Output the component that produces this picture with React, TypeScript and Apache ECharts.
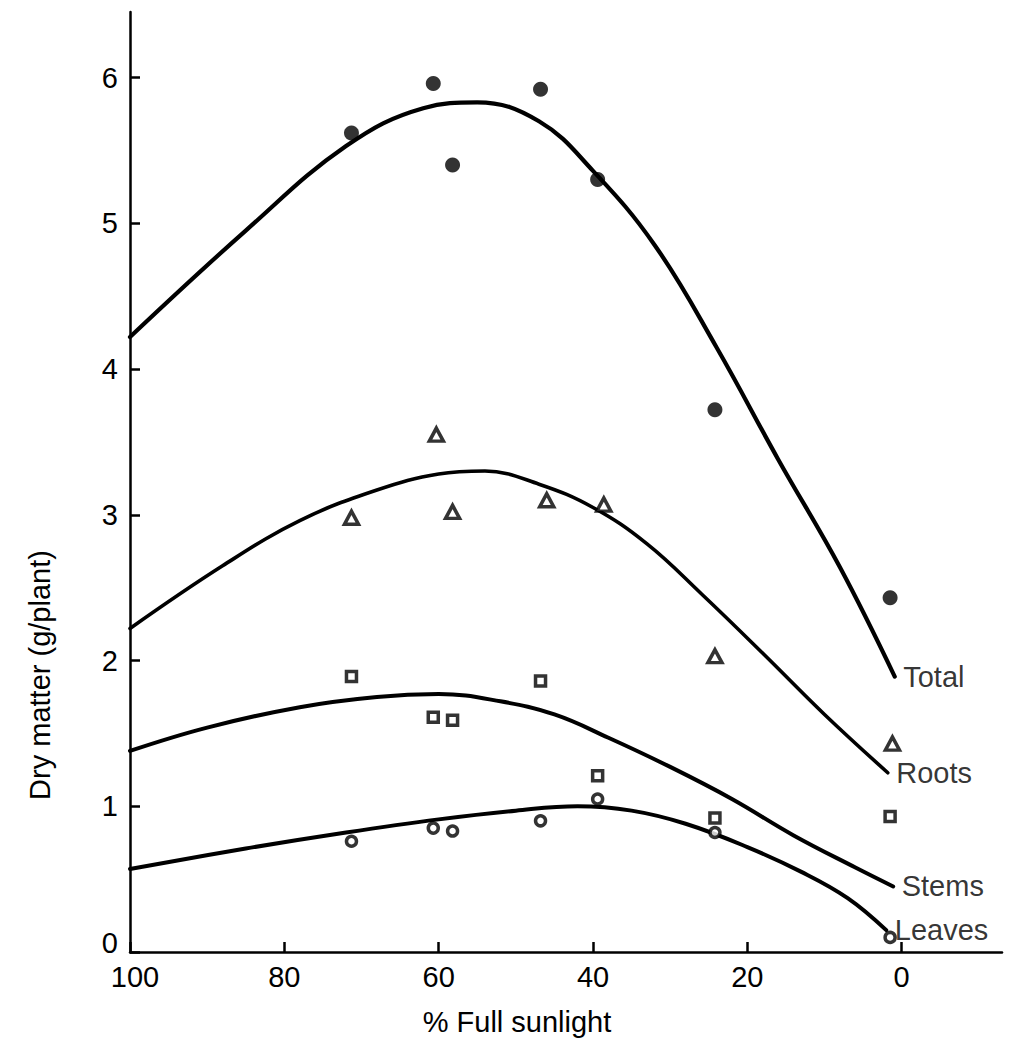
import React, { useEffect, useRef } from "react";
import * as echarts from "echarts";

// Axis ticks
const xTickValues = [0, 20, 40, 60, 80, 100];
const yTickValues = [0, 1, 2, 3, 4, 5, 6];

// Observed points (% full sunlight)
const sunlight = [71.3, 60.7, 58.2, 46.8, 39.4, 24.2, 1.5];
const rootsSunlight = [71.3, 60.3, 58.2, 46.0, 38.6, 24.2, 1.2];
const totalPoints = [5.62, 5.96, 5.4, 5.92, 5.3, 3.72, 2.43];
const rootsPoints = [2.98, 3.55, 3.02, 3.1, 3.07, 2.03, 1.43];
const stemsPoints = [1.89, 1.61, 1.59, 1.86, 1.21, 0.92, 0.93];
const leavesPoints = [0.76, 0.85, 0.83, 0.9, 1.05, 0.82, 0.1];

// Fitted curves
const totalCurveX = [100, 85, 72, 62, 55, 47, 40, 32, 24, 16, 8, 0.9];
const totalCurveY = [4.22, 4.95, 5.53, 5.79, 5.83, 5.7, 5.36, 4.85, 4.15, 3.38, 2.64, 1.89];
const rootsCurveX = [100, 88, 78, 68, 60, 54, 47, 40, 33, 26, 18, 10, 1.8];
const rootsCurveY = [2.22, 2.65, 2.96, 3.17, 3.28, 3.3, 3.21, 3.05, 2.8, 2.46, 2.05, 1.63, 1.23];
const stemsCurveX = [100, 90, 78, 68, 60, 52, 45, 38, 30, 22, 14, 6, 1.1];
const stemsCurveY = [1.38, 1.54, 1.68, 1.75, 1.77, 1.72, 1.63, 1.47, 1.27, 1.05, 0.8, 0.58, 0.45];
const leavesCurveX = [100, 85, 72, 60, 50, 42, 35, 28, 20, 13, 7, 2.0];
const leavesCurveY = [0.57, 0.71, 0.82, 0.91, 0.97, 1.0, 0.97, 0.88, 0.72, 0.55, 0.37, 0.15];

const curveNames = ["Total", "Roots", "Stems", "Leaves"];

const FONT = "'Liberation Sans', Arial, sans-serif";
const INK = "#000";
const FS = 29;

const zip = (xs: number[], ys: number[]) => xs.map((x, i) => [x, ys[i]]);

export default function App() {
  const ref = useRef<HTMLDivElement>(null);

  useEffect(() => {
    if (!ref.current) return;
    const chart = echarts.init(ref.current, undefined, { renderer: "svg" });

    const curves = [
      zip(totalCurveX, totalCurveY),
      zip(rootsCurveX, rootsCurveY),
      zip(stemsCurveX, stemsCurveY),
      zip(leavesCurveX, leavesCurveY),
    ];
    const lineWidths = [4.2, 3.6, 4, 4];

    const lineSeries = curves.map((data, i) => ({
      type: "line",
      name: curveNames[i] + " fit",
      data,
      smooth: 0.4,
      showSymbol: false,
      symbol: "none",
      lineStyle: { color: INK, width: lineWidths[i], cap: "round" },
      z: 2,
    }));

    const labelSeries = curves.map((data, i) => ({
      type: "scatter",
      name: curveNames[i] + " label",
      data: [data[data.length - 1]],
      symbolSize: 1,
      itemStyle: { color: "rgba(0,0,0,0)" },
      label: {
        show: true,
        position: "right",
        distance: 8,
        formatter: curveNames[i],
        fontFamily: FONT,
        fontSize: FS,
        color: INK,
      },
      z: 4,
    }));

    const option = {
      animation: false,
      backgroundColor: "#fff",
      grid: { left: 130, right: 10, top: 12, bottom: 103 },
      xAxis: {
        type: "value",
        inverse: true,
        min: -13,
        max: 100,
        splitLine: { show: false },
        axisLine: { show: true, onZero: false, lineStyle: { color: INK, width: 2.5 } },
        axisTick: {
          show: true,
          inside: true,
          length: 10,
          customValues: xTickValues,
          lineStyle: { color: INK, width: 2.5 },
        },
        axisLabel: {
          customValues: xTickValues,
          margin: 10,
          fontFamily: FONT,
          fontSize: FS,
          color: INK,
          formatter: (v: number) => (v === 100 ? "{h|100}" : String(v)),
          rich: {
            h: { fontFamily: FONT, fontSize: FS, color: INK, padding: [0, 0, 0, 10] },
          },
        },
      },
      yAxis: {
        type: "value",
        min: 0,
        max: 6.45,
        splitLine: { show: false },
        axisLine: { show: true, onZero: false, lineStyle: { color: INK, width: 2.5 } },
        axisTick: {
          show: true,
          inside: true,
          length: 10,
          customValues: yTickValues,
          lineStyle: { color: INK, width: 2.5 },
        },
        axisLabel: {
          customValues: yTickValues,
          margin: 12,
          fontFamily: FONT,
          fontSize: FS,
          color: INK,
          formatter: (v: number) => (v === 0 ? "{z|0}" : String(v)),
          rich: {
            z: { fontFamily: FONT, fontSize: FS, color: INK, padding: [0, 0, 18, 0] },
          },
        },
      },
      graphic: [
        {
          type: "text",
          x: 517,
          y: 1022,
          style: {
            text: "% Full sunlight",
            fontFamily: FONT,
            fontSize: FS,
            fill: INK,
            textAlign: "center",
            textVerticalAlign: "middle",
          },
        },
        {
          type: "text",
          x: 40,
          y: 675,
          rotation: Math.PI / 2,
          style: {
            text: "Dry matter (g/plant)",
            fontFamily: FONT,
            fontSize: FS,
            fill: INK,
            textAlign: "center",
            textVerticalAlign: "middle",
          },
        },
      ],
      series: [
        ...lineSeries,
        {
          type: "scatter",
          name: "Total",
          data: zip(sunlight, totalPoints),
          symbol: "circle",
          symbolSize: 15,
          itemStyle: { color: INK },
          z: 3,
        },
        {
          type: "scatter",
          name: "Roots",
          data: zip(rootsSunlight, rootsPoints),
          symbol: "triangle",
          symbolSize: [14, 13],
          itemStyle: { color: "#fff", borderColor: INK, borderWidth: 3.5 },
          z: 3,
        },
        {
          type: "scatter",
          name: "Stems",
          data: zip(sunlight, stemsPoints),
          symbol: "rect",
          symbolSize: 10,
          itemStyle: { color: "#fff", borderColor: INK, borderWidth: 3.5 },
          z: 3,
        },
        {
          type: "scatter",
          name: "Leaves",
          data: zip(sunlight, leavesPoints),
          symbol: "circle",
          symbolSize: 10,
          itemStyle: { color: "#fff", borderColor: INK, borderWidth: 3.5 },
          z: 3,
        },
        ...labelSeries,
      ],
    };

    chart.setOption(option as any);
    return () => chart.dispose();
  }, []);

  return (
    <div
      ref={ref}
      style={{ position: "fixed", left: 0, top: 0, width: 1012, height: 1055, background: "#fff" }}
    />
  );
}
